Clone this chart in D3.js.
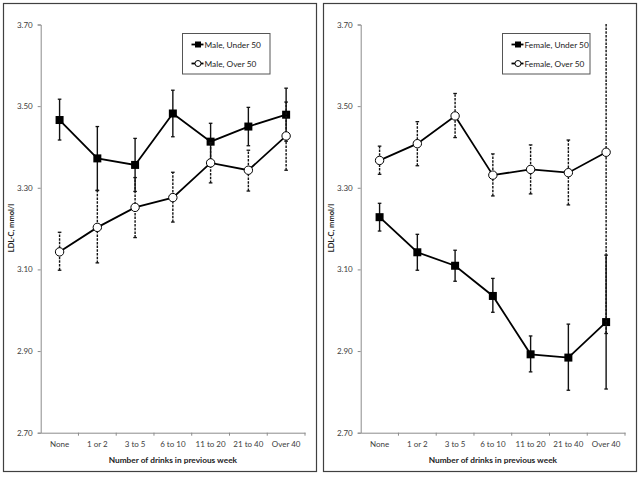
<!DOCTYPE html>
<html><head><meta charset="utf-8">
<script src="https://cdn.jsdelivr.net/npm/d3@7"></script>
<style>body{margin:0;background:#fff}svg{display:block}</style>
</head><body>
<svg id="c" width="643" height="477"></svg>
<script>
const categories = ["None","1 or 2","3 to 5","6 to 10","11 to 20","21 to 40","Over 40"];
const yTicks = [2.70, 2.90, 3.10, 3.30, 3.50, 3.70];

const maleUnder50     = [3.466, 3.372, 3.356, 3.482, 3.413, 3.450, 3.479];
const maleUnder50Lo   = [3.417, 3.294, 3.291, 3.425, 3.368, 3.403, 3.414];
const maleUnder50Hi   = [3.517, 3.450, 3.421, 3.539, 3.458, 3.497, 3.544];
const maleOver50      = [3.143, 3.203, 3.252, 3.276, 3.361, 3.343, 3.427];
const maleOver50Lo    = [3.098, 3.116, 3.178, 3.216, 3.312, 3.292, 3.343];
const maleOver50Hi    = [3.191, 3.293, 3.325, 3.338, 3.410, 3.392, 3.510];

const femaleUnder50   = [3.228, 3.142, 3.109, 3.035, 2.892, 2.884, 2.971];
const femaleUnder50Lo = [3.194, 3.098, 3.071, 2.995, 2.849, 2.804, 2.807];
const femaleUnder50Hi = [3.262, 3.186, 3.147, 3.078, 2.937, 2.966, 3.135];
const femaleOver50    = [3.367, 3.408, 3.476, 3.331, 3.345, 3.337, 3.387];
const femaleOver50Lo  = [3.333, 3.354, 3.423, 3.280, 3.285, 3.258, 2.943];
const femaleOver50Hi  = [3.402, 3.462, 3.531, 3.383, 3.405, 3.417, 3.830];

const panels = [
  {ox: 0, series: [
    {name:"Male, Under 50", v:maleUnder50, lo:maleUnder50Lo, hi:maleUnder50Hi, marker:"square"},
    {name:"Male, Over 50", v:maleOver50, lo:maleOver50Lo, hi:maleOver50Hi, marker:"circle"}]},
  {ox: 320, series: [
    {name:"Female, Under 50", v:femaleUnder50, lo:femaleUnder50Lo, hi:femaleUnder50Hi, marker:"square"},
    {name:"Female, Over 50", v:femaleOver50, lo:femaleOver50Lo, hi:femaleOver50Hi, marker:"circle"}]}
];

const svg = d3.select("#c");
const FONT = "Lato, 'Open Sans', sans-serif";
const axisCol = "#8c8c8c", textCol = "#404040";

panels.forEach((p, pi) => {
  const g = svg.append("g").attr("transform", `translate(${p.ox},0)`);
  g.append("rect").attr("x", 3.5).attr("y", 3.5).attr("width", 313).attr("height", 468)
    .attr("fill", "#fff").attr("stroke", "#404040").attr("stroke-width", 1.2);

  const x = d3.scaleBand().domain(categories).range([40.7, 305]);
  const y = d3.scaleLinear().domain([2.70, 3.70]).range([432.7, 24.5]);

  // y axis
  const ya = g.append("g").attr("transform", "translate(40.7,0)")
    .call(d3.axisLeft(y).tickValues(yTicks).tickFormat(d3.format(".2f")).tickSize(3).tickPadding(5));
  ya.select(".domain").attr("stroke", axisCol);
  ya.selectAll(".tick line").attr("stroke", axisCol);
  ya.selectAll("text").attr("font-family", FONT).attr("font-size", 8).attr("fill", textCol);

  // x axis
  const xa = g.append("g").attr("transform", "translate(0,432.7)")
    .call(d3.axisBottom(x).tickSize(0).tickPadding(9));
  xa.select(".domain").attr("stroke", axisCol);
  xa.selectAll("text").attr("font-family", FONT).attr("font-size", 8).attr("fill", textCol);
  const bounds = categories.map((c) => x(c) + x.bandwidth());
  xa.selectAll(".bt").data(bounds).join("line").attr("class", "bt")
    .attr("x1", d => d).attr("x2", d => d).attr("y1", 0).attr("y2", 3).attr("stroke", axisCol);

  g.append("text").attr("x", (40.7 + 305) / 2).attr("y", 463)
    .attr("text-anchor", "middle").attr("font-family", FONT).attr("font-size", 8.3)
    .attr("font-weight", "bold").attr("fill", "#222").text("Number of drinks in previous week");
  g.append("text").attr("transform", "translate(14,228) rotate(-90)")
    .attr("text-anchor", "middle").attr("font-family", FONT).attr("font-size", 7.5)
    .attr("font-weight", "bold").attr("fill", "#222").text("LDL-C, mmol/l");

  const clipId = "clip" + pi;
  g.append("clipPath").attr("id", clipId).append("rect")
    .attr("x", 30).attr("y", 24).attr("width", 290).attr("height", 410);
  const plot = g.append("g").attr("clip-path", `url(#${clipId})`);
  const cx = (i) => x(categories[i]) + x.bandwidth() / 2;

  p.series.forEach(s => {
    const dash = s.marker === "circle" ? "2.5,1.2" : null;
    const eg = plot.append("g");
    s.v.forEach((v, i) => {
      eg.append("line").attr("x1", cx(i)).attr("x2", cx(i))
        .attr("y1", y(s.lo[i])).attr("y2", y(s.hi[i]))
        .attr("stroke", "#111").attr("stroke-width", 1.4).attr("stroke-dasharray", dash);
      [s.lo[i], s.hi[i]].forEach(e => {
        if (e <= 3.70) eg.append("line").attr("x1", cx(i) - 1.8).attr("x2", cx(i) + 1.8)
          .attr("y1", y(e)).attr("y2", y(e)).attr("stroke", "#111").attr("stroke-width", 1.3);
      });
    });
    plot.append("path").datum(s.v)
      .attr("d", d3.line().x((d, i) => cx(i)).y(d => y(d)))
      .attr("fill", "none").attr("stroke", "#000").attr("stroke-width", 1.8);
    s.v.forEach((v, i) => {
      if (s.marker === "square") {
        plot.append("rect").attr("x", cx(i) - 4).attr("y", y(v) - 4).attr("width", 8).attr("height", 8)
          .attr("fill", "#000");
      } else {
        plot.append("circle").attr("cx", cx(i)).attr("cy", y(v)).attr("r", 4.2)
          .attr("fill", "#fff").attr("stroke", "#000").attr("stroke-width", 1);
      }
    });
  });

  // legend
  const lx = pi === 0 ? 182.5 : 182.5, lw = pi === 0 ? 87.5 : 87.5;
  const lg = g.append("g");
  lg.append("rect").attr("x", lx).attr("y", 33.5).attr("width", lw).attr("height", 40.5)
    .attr("fill", "#fff").attr("stroke", "#555").attr("stroke-width", 1);
  p.series.forEach((s, k) => {
    const yy = 44.5 + k * 19;
    lg.append("line").attr("x1", lx + 9).attr("x2", lx + 21).attr("y1", yy).attr("y2", yy)
      .attr("stroke", "#000").attr("stroke-width", 1.8);
    if (s.marker === "square") lg.append("rect").attr("x", lx + 12.5).attr("y", yy - 3).attr("width", 6).attr("height", 6).attr("fill", "#000");
    else lg.append("circle").attr("cx", lx + 15.5).attr("cy", yy).attr("r", 3).attr("fill", "#fff").attr("stroke", "#000");
    lg.append("text").attr("x", lx + 22).attr("y", yy + 3).attr("font-family", FONT)
      .attr("font-size", 8.3).attr("fill", "#222").text(s.name);
  });
});
</script>
</body></html>
